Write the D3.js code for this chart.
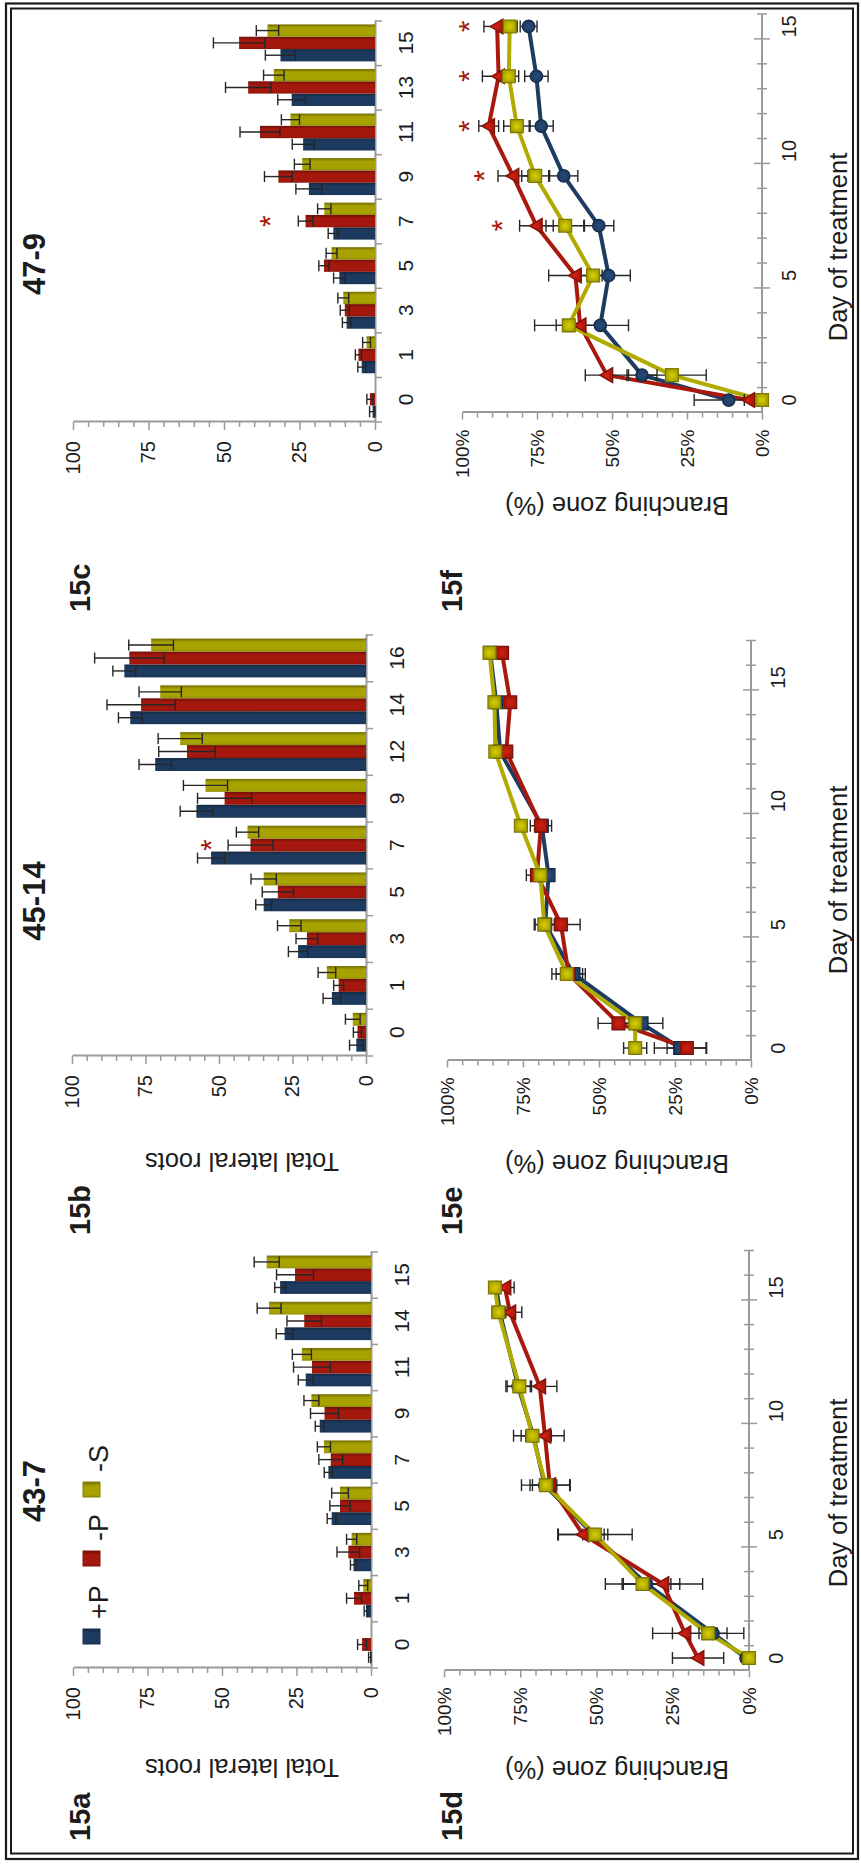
<!DOCTYPE html>
<html><head><meta charset="utf-8">
<script src="https://cdn.jsdelivr.net/npm/d3@7"></script>
<style>
html,body{margin:0;padding:0;background:#fff;}
svg{display:block;}
text{font-family:"Liberation Sans", Arial, Helvetica, sans-serif;}
</style></head><body>
<svg id="chart" width="861" height="1866"></svg>
<script>
// ---------------- DATA ----------------
const seriesNames = ["+P", "-P", "-S"];
const seriesColors = ["#1d3b60", "#a5180d", "#a8a200"];
const valueTicks = [0, 25, 50, 75, 100];
const pctTicks = [0, 25, 50, 75, 100];
const dayTicks = [0, 5, 10, 15];

// 15a  43-7  total lateral roots
const catsA = [0, 1, 3, 5, 7, 9, 11, 14, 15];
const aPlusP = [0.3, 1.7, 5.9, 13.2, 14.3, 17.2, 21.9, 29.0, 30.5];
const aPlusPErr = [0.5, 0.6, 1.0, 1.5, 1.4, 1.5, 2.5, 2.8, 1.8];
const aMinusP = [3.0, 5.7, 7.6, 10.4, 13.5, 15.6, 19.8, 22.4, 25.5];
const aMinusPErr = [1.5, 2.5, 3.8, 3.4, 4.0, 4.7, 6.2, 5.8, 6.2];
const aMinusS = [0, 2.6, 6.5, 10.4, 15.8, 20.0, 23.2, 34.2, 35.0];
const aMinusSErr = [0, 1.5, 1.7, 2.8, 2.2, 2.5, 3.2, 4.0, 4.2];

// 15b  45-14
const catsB = [0, 1, 3, 5, 7, 9, 12, 14, 16];
const bPlusP = [3.3, 11.6, 23.1, 34.8, 52.7, 57.7, 71.7, 80.2, 82.2];
const bPlusPErr = [2.3, 3.0, 3.3, 2.7, 4.6, 5.5, 5.5, 4.0, 3.9];
const bMinusP = [2.9, 9.3, 20.1, 30.0, 39.3, 48.1, 60.9, 76.5, 80.5];
const bMinusPErr = [1.4, 1.7, 3.7, 5.3, 7.6, 9.2, 9.6, 11.6, 11.8];
const bMinusS = [4.5, 13.3, 26.1, 34.8, 40.3, 54.6, 63.2, 70.0, 73.1];
const bMinusSErr = [2.5, 3.0, 4.0, 4.3, 3.8, 7.5, 7.5, 7.2, 7.6];
const bStars = [{cat: 7, series: 1, value: 55}];

// 15c  47-9
const catsC = [0, 1, 3, 5, 7, 9, 11, 13, 15];
const cPlusP = [0.8, 4.4, 9.4, 11.8, 13.8, 21.9, 23.8, 27.6, 31.3];
const cPlusPErr = [1.0, 1.3, 1.4, 1.9, 1.7, 4.3, 3.6, 4.6, 5.0];
const cMinusP = [1.7, 5.5, 10.0, 16.9, 23.0, 32.0, 38.1, 42.0, 45.0];
const cMinusPErr = [1.0, 1.0, 1.5, 1.7, 2.4, 4.6, 6.6, 7.5, 8.5];
const cMinusS = [0, 2.8, 10.5, 14.4, 16.8, 24.1, 28.0, 33.5, 35.6];
const cMinusSErr = [0, 1.3, 1.8, 1.8, 2.2, 2.6, 3.0, 3.4, 3.7];
const cStars = [{cat: 7, series: 1, value: 37}];

// 15d  branching zone (%)
const daysD = [0, 1, 3, 5, 7, 9, 11, 14, 15];
const dPlusP = [1.0, 11.8, 33.6, 51.0, 67.0, 70.7, 75.7, 81.7, 82.8];
const dPlusPErr = [1.0, 4.6, 8.0, 3.5, 4.0, 4.0, 4.0, 2.0, 1.5];
const dMinusP = [16.7, 21.0, 28.2, 54.4, 65.3, 66.9, 68.6, 78.4, 80.0];
const dMinusPErr = [8.4, 10.6, 13.0, 8.1, 6.5, 6.3, 5.6, 3.9, 3.0];
const dMinusS = [0, 13.4, 34.9, 50.5, 66.6, 71.0, 75.3, 82.2, 83.3];
const dMinusSErr = [0, 11.7, 12.2, 12.2, 8.0, 6.2, 4.0, 2.0, 1.5];

// 15e
const daysE = [0, 1, 3, 5, 7, 9, 12, 14, 16];
const ePlusP = [23.3, 36.0, 58.4, 67.7, 66.6, 68.8, 82.5, 83.8, 85.8];
const ePlusPErr = [8.5, 7.0, 3.0, 3.3, 1.5, 2.0, 1.5, 1.5, 1.5];
const eMinusP = [21.1, 43.6, 60.0, 62.5, 70.4, 69.1, 80.5, 79.2, 81.9];
const eMinusPErr = [6.5, 6.7, 5.5, 6.3, 3.5, 3.5, 1.5, 1.8, 2.0];
const eMinusS = [38.1, 38.1, 60.6, 68.0, 69.3, 75.7, 84.1, 84.4, 86.0];
const eMinusSErr = [3.8, 4.0, 3.5, 3.3, 2.0, 2.0, 1.5, 1.5, 1.5];

// 15f
const daysF = [0, 1, 3, 5, 7, 9, 11, 13, 15];
const fPlusP = [11.1, 40.0, 53.9, 51.1, 54.4, 66.1, 73.6, 75.2, 77.8];
const fPlusPErr = [11.5, 5.0, 9.4, 7.2, 5.0, 4.7, 4.0, 3.9, 2.8];
const fMinusP = [4.4, 51.7, 60.6, 62.2, 75.2, 83.0, 91.1, 87.8, 88.3];
const fMinusPErr = [1.5, 7.2, 8.0, 8.9, 5.6, 5.0, 3.3, 5.4, 4.4];
const fMinusS = [0, 30.0, 64.4, 56.3, 65.6, 75.6, 81.7, 84.4, 84.1];
const fMinusSErr = [0, 11.4, 11.4, 4.0, 6.4, 4.5, 4.4, 3.3, 2.5];
const fStars = [{day: 7, pct: 89}, {day: 9, pct: 95}, {day: 11, pct: 100}, {day: 13, pct: 100}, {day: 15, pct: 100}];

// ---------------- DRAW ----------------
const W = 861, H = 1866;
const svg = d3.select("#chart");
svg.append("rect").attr("width", W).attr("height", H).attr("fill", "#fff");
const defs = svg.append("defs");
seriesColors.forEach((c, i) => {
  const lg = defs.append("linearGradient").attr("id", "bar" + i)
    .attr("x1", 0).attr("x2", 1).attr("y1", 0).attr("y2", 0);
  lg.append("stop").attr("offset", "0%").attr("stop-color", d3.color(c).darker(0.35));
  lg.append("stop").attr("offset", "20%").attr("stop-color", c);
  lg.append("stop").attr("offset", "72%").attr("stop-color", c);
  lg.append("stop").attr("offset", "100%").attr("stop-color", d3.color(c).darker(1.1));
  const rg = defs.append("radialGradient").attr("id", "mk" + i);
  rg.append("stop").attr("offset", "0%").attr("stop-color", d3.color(c).brighter(0.7));
  rg.append("stop").attr("offset", "100%").attr("stop-color", c);
});

// double frame (portrait coordinates)
svg.append("rect").attr("x", 6).attr("y", 3.5).attr("width", 852).attr("height", 1855.5)
  .attr("fill", "none").attr("stroke", "#1a1a1a").attr("stroke-width", 2.2);
svg.append("rect").attr("x", 11).attr("y", 8.5).attr("width", 842).attr("height", 1845)
  .attr("fill", "none").attr("stroke", "#1a1a1a").attr("stroke-width", 2);

// whole figure is landscape, rotated 90° counter-clockwise
const g = svg.append("g").attr("transform", `translate(0,${H}) rotate(-90)`);
const AX = "#9a9a9a", TXT = "#1c1c1c", ERR = "#262626";

function txt(parent, x, y, s, size, opts = {}) {
  const t = parent.append("text").attr("x", x).attr("y", y).text(s)
    .attr("font-size", size).attr("fill", opts.fill || TXT)
    .attr("text-anchor", opts.anchor || "start");
  if (opts.bold) t.attr("font-weight", "bold");
  if (opts.dy) t.attr("dy", opts.dy);
  return t;
}

function barPanel(p) {
  const G = g.append("g");
  const x = d3.scaleBand().domain(p.cats).range([p.x0, p.x1]).paddingInner(0.17).paddingOuter(0.085).align(0.55);
  const sub = d3.scaleBand().domain([0, 1, 2]).range([0, x.bandwidth()]);
  const y = d3.scaleLinear().domain([0, 100]).range([p.y0, p.y100]);

  // value axis
  const ax = d3.axisLeft(y).tickValues(d3.range(0, 101, 5)).tickSizeInner(5).tickSizeOuter(0).tickPadding(14)
    .tickFormat(v => valueTicks.includes(v) ? v : "");
  const axG = G.append("g").attr("transform", `translate(${p.x0},0)`).call(ax);
  axG.attr("font-family", null).attr("font-size", null);
  axG.select(".domain").attr("stroke", AX).attr("stroke-width", 2);
  axG.selectAll(".tick line").attr("stroke", AX).attr("stroke-width", 1.5)
    .attr("x2", d => valueTicks.includes(d) ? -8 : -5);
  axG.selectAll(".tick text").attr("font-size", 20).attr("fill", TXT);

  // category axis
  const bAx = d3.axisBottom(x).tickSize(0).tickPadding(23);
  const bG = G.append("g").attr("transform", `translate(0,${p.y0})`).call(bAx);
  bG.attr("font-family", null).attr("font-size", null);
  bG.select(".domain").attr("stroke", AX).attr("stroke-width", 2);
  bG.selectAll(".tick text").attr("font-size", 21).attr("fill", TXT);
  const step = (p.x1 - p.x0) / p.cats.length;
  G.selectAll(".ctick").data(d3.range(p.cats.length + 1)).join("line")
    .attr("x1", i => p.x0 + i * step).attr("x2", i => p.x0 + i * step)
    .attr("y1", p.y0).attr("y2", p.y0 + 7).attr("stroke", AX).attr("stroke-width", 1.5);

  // bars
  p.series.forEach((s, si) => {
    G.selectAll(null).data(p.cats.map((c, i) => ({c, v: s.values[i]}))).join("rect")
      .attr("x", d => x(d.c) + sub(si)).attr("width", sub.bandwidth())
      .attr("y", d => y(d.v)).attr("height", d => y(0) - y(d.v))
      .attr("fill", `url(#bar${si})`);
  });
  // error bars
  p.series.forEach((s, si) => {
    const data = p.cats.map((c, i) => ({c, v: s.values[i], e: s.err[i]})).filter(d => d.e > 0);
    const cx = d => x(d.c) + sub(si) + sub.bandwidth() / 2;
    G.selectAll(null).data(data).join("line")
      .attr("x1", cx).attr("x2", cx).attr("y1", d => y(d.v + d.e)).attr("y2", d => y(Math.max(0, d.v - d.e)))
      .attr("stroke", ERR).attr("stroke-width", 1.4);
    ["hi", "lo"].forEach(k => {
      G.selectAll(null).data(data).join("line")
        .attr("x1", d => cx(d) - 5.5).attr("x2", d => cx(d) + 5.5)
        .attr("y1", d => y(k === "hi" ? d.v + d.e : Math.max(0, d.v - d.e)))
        .attr("y2", d => y(k === "hi" ? d.v + d.e : Math.max(0, d.v - d.e)))
        .attr("stroke", ERR).attr("stroke-width", 1.4);
    });
  });
  // stars
  (p.stars || []).forEach(st => {
    txt(G, x(st.cat) + sub(st.series) + sub.bandwidth() / 2, y(st.value) + 17, "*", 30,
      {anchor: "middle", fill: "#a5180d"});
  });

  txt(G, p.titleX, 45, p.title, 31, {anchor: "middle", bold: true});
  txt(G, p.letterX, 90, p.letter, 29, {bold: true});
  if (p.yTitleX) {
    G.append("text").attr("transform", `translate(${p.yTitleX},242) rotate(-90)`)
      .attr("text-anchor", "middle").attr("font-size", 25.5).attr("fill", TXT).text("Total lateral roots");
  }
}

function linePanel(p) {
  const G = g.append("g");
  const x = d3.scaleLinear().domain([p.dmin, p.dmax]).range([p.x0, p.x1]);
  const y = d3.scaleLinear().domain([0, 100]).range([p.y0, p.y100]);

  const ax = d3.axisLeft(y).tickValues(d3.range(0, 101, 5)).tickSizeInner(5).tickSizeOuter(0).tickPadding(12)
    .tickFormat(v => pctTicks.includes(v) ? v + "%" : "");
  const axG = G.append("g").attr("transform", `translate(${p.x0},0)`).call(ax);
  axG.attr("font-family", null).attr("font-size", null);
  axG.select(".domain").attr("stroke", AX).attr("stroke-width", 2);
  axG.selectAll(".tick line").attr("stroke", AX).attr("stroke-width", 1.5)
    .attr("x2", d => pctTicks.includes(d) ? -7 : -5);
  axG.selectAll(".tick text").attr("font-size", 19).attr("fill", TXT);

  // day axis
  G.append("line").attr("x1", x(p.dmin)).attr("x2", x(p.dmax)).attr("y1", y(0)).attr("y2", y(0))
    .attr("stroke", AX).attr("stroke-width", 2);
  const tks = d3.range(p.dmin + 1, p.dmax + 0.01, 1);
  G.selectAll(null).data(tks).join("line")
    .attr("x1", d => x(d)).attr("x2", d => x(d))
    .attr("y1", d => y(0) - (Math.abs((d + 0.5) % 5) < 0.01 ? 8 : 5))
    .attr("y2", d => y(0) + (Math.abs((d + 0.5) % 5) < 0.01 ? 8 : 5))
    .attr("stroke", AX).attr("stroke-width", 1.5);
  dayTicks.forEach(d => txt(G, x(d), y(0) + 34, String(d), 20, {anchor: "middle"}));

  const line = d3.line().x(d => x(d.day)).y(d => y(d.v));
  const sets = p.series.map(s => p.days.map((day, i) => ({day, v: s.values[i], e: s.err[i]})));
  sets.forEach((data, si) => {
    G.append("path").datum(data).attr("d", line).attr("fill", "none")
      .attr("stroke", d3.color(seriesColors[si]).brighter(si === 2 ? 0.15 : 0.05))
      .attr("stroke-width", 4).attr("stroke-linejoin", "round");
  });
  sets.forEach((data, si) => {
    const d2 = data.filter(d => d.e > 0);
    G.selectAll(null).data(d2).join("line")
      .attr("x1", d => x(d.day)).attr("x2", d => x(d.day))
      .attr("y1", d => y(d.v + d.e)).attr("y2", d => y(Math.max(0, d.v - d.e)))
      .attr("stroke", ERR).attr("stroke-width", 1.4);
    [1, -1].forEach(sg => {
      G.selectAll(null).data(d2).join("line")
        .attr("x1", d => x(d.day) - 6).attr("x2", d => x(d.day) + 6)
        .attr("y1", d => y(sg > 0 ? d.v + d.e : Math.max(0, d.v - d.e)))
        .attr("y2", d => y(sg > 0 ? d.v + d.e : Math.max(0, d.v - d.e)))
        .attr("stroke", ERR).attr("stroke-width", 1.4);
    });
  });
  sets.forEach((data, si) => {
    const shape = p.shapes[si];
    const sym = shape === "circle" ? d3.symbolCircle : shape === "triangle" ? d3.symbolTriangle : d3.symbolSquare;
    const size = shape === "circle" ? 120 : shape === "triangle" ? 95 : 165;
    G.selectAll(null).data(data).join("path")
      .attr("d", d3.symbol(sym, size))
      .attr("transform", d => `translate(${x(d.day)},${y(d.v) + (shape === "triangle" ? 1.5 : 0)})`)
      .attr("fill", `url(#mk${si})`).attr("stroke", d3.color(seriesColors[si]).darker(0.8)).attr("stroke-width", 1.3);
  });
  (p.stars || []).forEach(st => {
    txt(G, x(st.day), y(st.pct) + 17, "*", 30, {anchor: "middle", fill: "#a5180d"});
  });

  txt(G, p.letterX, 462, p.letter, 29, {bold: true});
  G.append("text").attr("transform", `translate(${p.yTitleX},617) rotate(-90)`)
    .attr("text-anchor", "middle").attr("font-size", 25.5).attr("fill", TXT).text("Branching zone (%)");
  txt(G, p.xTitleX, 847, "Day of treatment", 25.5, {anchor: "middle"});
}

const mk = (vals, errs) => ({values: vals, err: errs});

barPanel({cats: catsA, series: [mk(aPlusP, aPlusPErr), mk(aMinusP, aMinusPErr), mk(aMinusS, aMinusSErr)],
  x0: 198, x1: 614, y0: 371, y100: 73, title: "43-7", titleX: 375, letter: "15a", letterX: 25, yTitleX: 107});
barPanel({cats: catsB, series: [mk(bPlusP, bPlusPErr), mk(bMinusP, bMinusPErr), mk(bMinusS, bMinusSErr)],
  x0: 810, x1: 1231, y0: 366, y100: 72, title: "45-14", titleX: 965, letter: "15b", letterX: 631, yTitleX: 713, stars: bStars});
barPanel({cats: catsC, series: [mk(cPlusP, cPlusPErr), mk(cMinusP, cMinusPErr), mk(cMinusS, cMinusSErr)],
  x0: 1444, x1: 1845, y0: 375, y100: 73, title: "47-9", titleX: 1602, letter: "15c", letterX: 1254, yTitleX: null, stars: cStars});

linePanel({days: daysD, series: [mk(dPlusP, dPlusPErr), mk(dMinusP, dMinusPErr), mk(dMinusS, dMinusSErr)],
  shapes: ["circle", "triangle", "square"], dmin: -0.5, dmax: 16.5, x0: 195.6, x1: 615.5, y0: 749, y100: 444,
  letter: "15d", letterX: 25, yTitleX: 105, xTitleX: 373});
linePanel({days: daysE, series: [mk(ePlusP, ePlusPErr), mk(eMinusP, eMinusPErr), mk(eMinusS, eMinusSErr)],
  shapes: ["square", "square", "square"], dmin: -0.5, dmax: 16.5, x0: 805.6, x1: 1225.5, y0: 751, y100: 447,
  letter: "15e", letterX: 631, yTitleX: 711, xTitleX: 986});
linePanel({days: daysF, series: [mk(fPlusP, fPlusPErr), mk(fMinusP, fMinusPErr), mk(fMinusS, fMinusSErr)],
  shapes: ["circle", "triangle", "square"], dmin: -0.5, dmax: 15.5, x0: 1453.5, x1: 1852, y0: 762, y100: 462,
  letter: "15f", letterX: 1254, yTitleX: 1369, xTitleX: 1619, stars: fStars});

// legend (panel 15a)
const legX = [222, 300, 369];
seriesNames.forEach((n, i) => {
  g.append("rect").attr("x", legX[i]).attr("y", 83).attr("width", 15).attr("height", 17)
    .attr("fill", `url(#bar${i})`).attr("stroke", d3.color(seriesColors[i]).darker(0.6)).attr("stroke-width", 1);
  txt(g, legX[i] + 25, 108, n, 27);
});
</script>
</body></html>
